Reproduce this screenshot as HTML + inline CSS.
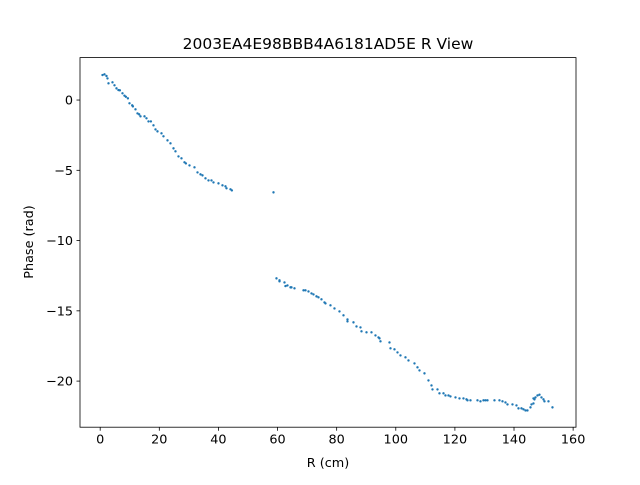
<!DOCTYPE html>
<html><head><meta charset="utf-8"><style>
html,body{margin:0;padding:0;background:#fff}
svg text{font-family:"DejaVu Sans","Liberation Sans",sans-serif;fill:#000}
</style></head><body>
<svg id="chart" width="640" height="480" viewBox="0 0 640 480" xmlns="http://www.w3.org/2000/svg">
<rect x="0" y="0" width="640" height="480" fill="#fff"/>
<text x="328" y="49" font-size="15.5" text-anchor="middle">2003EA4E98BBB4A6181AD5E R View</text>
<g id="ticks"></g>
<g id="points"></g>
<rect x="80" y="57.6" width="496" height="369.6" fill="none" stroke="#000" stroke-width="0.8"/>
<text x="328" y="467" font-size="12.8" text-anchor="middle">R (cm)</text>
<text x="33" y="242" font-size="12.8" text-anchor="middle" transform="rotate(-90 33 242)">Phase (rad)</text>
</svg>
<script>
const xTicks=[0,20,40,60,80,100,120,140,160];
const yTicks=[0,-5,-10,-15,-20];
const rValues=[0.78,1.45,2.13,2.47,2.81,4.16,4.84,5.51,6.19,6.66,7.54,8.22,8.69,9.37,9.91,10.83,11.06,11.94,12.62,13.19,13.63,14.99,15.66,16.34,17.15,18.03,18.71,19.38,20.74,21.41,22.77,23.78,24.80,25.47,26.49,27.50,28.52,28.99,30.21,31.90,32.92,33.93,34.61,35.62,36.64,37.65,38.33,40.02,41.37,42.39,42.73,44.08,44.55,58.63,
59.64,60.66,60.66,62.35,62.69,63.36,64.38,64.71,65.73,68.78,69.45,70.47,71.48,72.16,73.17,73.85,74.86,75.88,76.22,77.91,79.26,80.95,82.31,83.66,83.66,85.69,86.71,88.06,88.40,90.09,91.78,93.13,94.15,94.49,94.82,97.87,98.21,99.56,100.58,101.59,103.28,104.30,106.33,107.34,108.02,109.71,111.06,112.08,112.42,114.11,114.78,116.14,116.81,117.83,118.50,120.20,121.55,122.90,123.92,124.26,125.27,127.64,128.65,129.67,130.34,131.02,133.39,135.08,136.10,137.11,137.79,139.48,140.83,141.51,142.52,143.20,143.88,144.55,145.57,145.91,146.58,146.58,146.92,147.26,147.94,148.61,149.29,149.97,150.30,151.66,153.01];
const phaseValues=[1.78,1.83,1.71,1.54,1.19,1.26,1.05,0.83,0.71,0.69,0.48,0.31,0.23,0.12,-0.23,-0.38,-0.45,-0.66,-0.95,-1.02,-1.16,-1.16,-1.30,-1.52,-1.52,-1.80,-2.09,-2.23,-2.37,-2.58,-2.87,-3.08,-3.44,-3.65,-4.01,-4.15,-4.43,-4.51,-4.65,-4.79,-5.15,-5.29,-5.36,-5.57,-5.72,-5.72,-5.86,-5.93,-6.07,-6.14,-6.28,-6.35,-6.43,-6.57,
-12.69,-12.83,-12.90,-12.98,-13.24,-13.19,-13.33,-13.33,-13.40,-13.54,-13.54,-13.62,-13.76,-13.83,-13.97,-14.04,-14.18,-14.40,-14.47,-14.61,-14.83,-15.04,-15.32,-15.61,-15.75,-15.82,-16.11,-16.18,-16.46,-16.53,-16.53,-16.75,-16.89,-16.96,-17.17,-17.25,-17.67,-17.74,-17.96,-18.17,-18.31,-18.53,-18.74,-19.02,-19.24,-19.45,-19.95,-20.31,-20.59,-20.59,-20.87,-20.87,-21.02,-21.02,-21.09,-21.16,-21.23,-21.23,-21.30,-21.37,-21.37,-21.37,-21.44,-21.37,-21.37,-21.37,-21.37,-21.37,-21.44,-21.52,-21.66,-21.66,-21.73,-21.94,-21.94,-22.01,-22.09,-22.09,-21.87,-21.66,-21.59,-21.23,-21.30,-21.16,-21.02,-20.97,-21.16,-21.30,-21.44,-21.44,-21.87];
const NS='http://www.w3.org/2000/svg';
const X0=80,X1=576,Y0=427.2,Y1=57.6;
const xMin=-6.83,xMax=160.97,yMin=-23.28,yMax=3.02;
function sx(v){return X0+(v-xMin)/(xMax-xMin)*(X1-X0);}
function sy(v){return Y0-(v-yMin)/(yMax-yMin)*(Y0-Y1);}
function mk(tag,attrs){const e=document.createElementNS(NS,tag);for(const k in attrs)e.setAttribute(k,attrs[k]);return e;}
const tg=document.getElementById('ticks');
xTicks.forEach(t=>{
  const x=sx(t);
  const l=mk('line',{x1:x,x2:x,y1:Y0,y2:Y0+3.5,stroke:'#000','stroke-width':0.8});
  
  
  tg.appendChild(l);
  const s=mk('text',{x:x,y:Y0+16.5,'font-size':12.8,'text-anchor':'middle'});
  
  
  s.textContent=String(t);tg.appendChild(s);
});
yTicks.forEach(t=>{
  const y=sy(t);
  const l=mk('line',{x1:X0-3.5,x2:X0,y1:y,y2:y,stroke:'#000','stroke-width':0.8});
  
  
  tg.appendChild(l);
  const s=mk('text',{x:X0-7,y:y+4.5,'font-size':12.8,'text-anchor':'end'});
  
  
  s.textContent=(t<0?'\u2212'+Math.abs(t):String(t));tg.appendChild(s);
});
const pg=document.getElementById('points');
rValues.forEach((r,i)=>{
  const c=mk('circle',{cx:sx(r),cy:sy(phaseValues[i]),r:1.2,fill:'#1f77b4'});
  
  
  pg.appendChild(c);
});
</script>
</body></html>
